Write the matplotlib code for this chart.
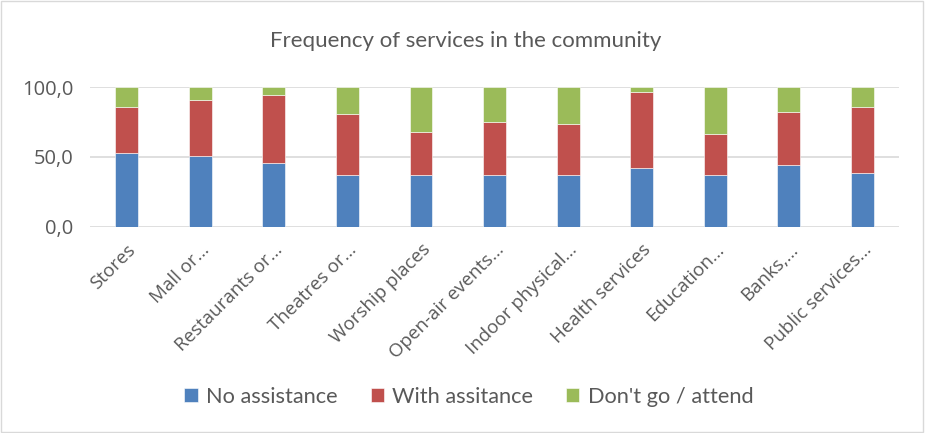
# Stacked percentage bars: frequency of services in the community
import numpy as np
import matplotlib.pyplot as plt
from matplotlib.patches import Rectangle

# Data ----------------------------------------------------

categories = ['Stores', 'Mall or…', 'Restaurants or…', 'Theatres or…',
              'Worship places', 'Open-air events…', 'Indoor physical…',
              'Health services', 'Education…', 'Banks,…', 'Public services…']
no_assistance = [52.6, 51.0, 45.5, 36.8, 36.8, 36.8, 36.8, 41.9, 36.8, 44.0, 38.3]
with_assistance = [33.5, 40.1, 49.2, 43.8, 31.4, 38.6, 36.6, 54.5, 29.9, 38.5, 47.8]
dont_go = [13.9, 8.9, 5.3, 19.4, 31.8, 24.6, 26.6, 3.6, 33.3, 17.5, 13.9]
series_names = ['No assistance', 'With assitance', "Don't go / attend"]
y_ticks = [0, 50, 100]
y_tick_labels = ['0,0', '50,0', '100,0']

colors = ['#4F81BD', '#C0504D', '#9BBB59']
text_color = '#595959'
grid_color = '#D9D9D9'

# Plot ----------------------------------------------------

fig = plt.figure(figsize=(9.25, 4.33), dpi=100)
ax = fig.add_axes([0.0973, 0.4765, 0.8747, 0.3219])

x = np.arange(len(categories))
bottom = np.zeros(len(categories))
for values, name, c in zip([no_assistance, with_assistance, dont_go], series_names, colors):
    ax.bar(x, values, width=0.31, bottom=bottom, color=c, label=name,
           edgecolor='white', linewidth=0.4, zorder=3)
    bottom += np.array(values)

ax.set_xlim(-0.5, len(categories) - 0.5)
ax.set_ylim(0, 100)
ax.set_yticks(y_ticks)
ax.set_yticklabels(y_tick_labels, fontsize=14.5, color=text_color, family='Open Sans')
ax.set_xticks(x)
ax.set_xticklabels(categories, rotation=45, ha='right', rotation_mode='anchor',
                   fontsize=13.5, color=text_color, family='Open Sans')
ax.tick_params(axis='y', length=0, pad=12)
ax.tick_params(axis='x', length=0, pad=10)
ax.yaxis.grid(True, color=grid_color, linewidth=1.2, zorder=0)
for s in ax.spines.values():
    s.set_visible(False)

fig.text(0.503, 0.905, 'Frequency of services in the community', ha='center', va='center',
         fontsize=16, color=text_color, family='Lato')

fig.legend(loc='center', bbox_to_anchor=(0.507, 0.083), ncol=3, frameon=False,
           prop={'family': 'Lato', 'size': 15.7}, handlelength=0.6, handleheight=0.6,
           handletextpad=0.4, columnspacing=1.5, labelcolor=text_color)

fig.patches.append(Rectangle((0.001, 0.002), 0.997, 0.995, transform=fig.transFigure,
                             fill=False, edgecolor=grid_color, linewidth=1))

fig.savefig('out.png', dpi=100)
